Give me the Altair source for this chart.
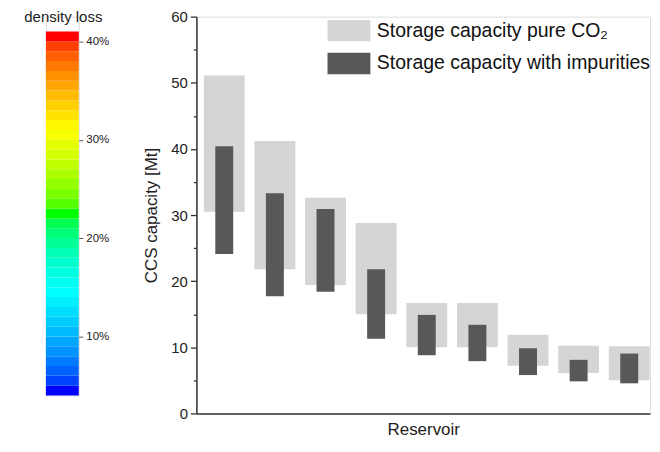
import altair as alt
import pandas as pd

# ---------------- data ----------------
reservoirs = ["1", "2", "3", "4", "5", "6", "7", "8", "9"]
reservoir_pos = [0, 1, 2, 3, 4, 5, 6, 7, 8]
pure_low = [30.5, 21.8, 19.4, 15.0, 10.0, 10.0, 7.2, 6.1, 5.0]
pure_high = [51.1, 41.2, 32.6, 28.8, 16.7, 16.7, 11.9, 10.25, 10.15]
imp_low = [24.1, 17.7, 18.4, 11.3, 8.8, 7.9, 5.8, 4.85, 4.55]
imp_high = [40.4, 33.3, 30.9, 21.8, 14.9, 13.4, 9.85, 8.1, 9.05]
series_names = ["Storage capacity pure CO\u2082", "Storage capacity with impurities"]

density_levels = [4, 5, 6, 7, 8, 9, 10, 11, 12, 13, 14, 15, 16, 17, 18, 19, 20,
                  21, 22, 23, 24, 25, 26, 27, 28, 29, 30, 31, 32, 33, 34, 35, 36,
                  37, 38, 39, 40]
density_ticks = [10, 20, 30, 40]
jet_stops = [4, 14, 22, 30.5, 40]
jet_colors = ["#0000ff", "#00ffff", "#00ff00", "#ffff00", "#ff0000"]

y_ticks = [0, 5, 10, 15, 20, 25, 30, 35, 40, 45, 50, 55, 60]

FONT = "Liberation Sans"
H = 398
W = 455
CB_H = 380

# ---------------- tables ----------------
pure_df = pd.DataFrame({"reservoir": reservoirs, "pos": reservoir_pos,
                        "low": pure_low, "high": pure_high, "series": series_names[0]})
imp_df = pd.DataFrame({"reservoir": reservoirs, "pos": reservoir_pos,
                       "low": imp_low, "high": imp_high, "series": series_names[1]})
cb_df = pd.DataFrame({"lo": density_levels, "hi": [v + 1 for v in density_levels]})

# ---------------- colorbar ----------------
px_per = 365 / 37.0
cb_top = 41 + 15 / px_per

colorbar = alt.Chart(cb_df).mark_rect(strokeWidth=0).encode(
    y=alt.Y("lo:Q", scale=alt.Scale(domain=[4, cb_top], nice=False, zero=False),
            axis=alt.Axis(orient="right", values=density_ticks,
                          labelExpr="datum.value + '%'", domain=False, grid=False,
                          tickSize=4, tickColor="#555", labelColor="#222",
                          labelFontSize=11.5, labelPadding=3, labelFont=FONT,
                          title="density loss", titleAngle=0, titleX=-16, titleY=0,
                          titleAlign="center", titleBaseline="middle",
                          titleFontSize=15, titleFontWeight="normal",
                          titleFont=FONT, titleColor="#222")),
    y2="hi:Q",
    color=alt.Color("lo:Q", scale=alt.Scale(domain=jet_stops, range=jet_colors),
                    legend=None),
).properties(width=33, height=CB_H)

# ---------------- main chart ----------------
color_scale = alt.Scale(domain=series_names, range=["#d5d5d5", "#585858"])
x_enc = alt.X("pos:Q",
              scale=alt.Scale(domain=[-0.55, 8.41], nice=False, zero=False, padding=0),
              axis=alt.Axis(labels=False, ticks=False, grid=False, title="Reservoir",
                            titleFontSize=17, titleFontWeight="normal", titleFont=FONT,
                            titleColor="#222", titlePadding=8,
                            domainColor="#333", domainWidth=1.5))
y_axis = alt.Axis(values=y_ticks, grid=False,
                  labelExpr="datum.value % 10 == 0 ? datum.label : ''",
                  tickSize={"condition": {"test": "datum.value % 10 != 0", "value": 3},
                            "value": 6},
                  tickColor="#333", tickWidth=1.3, domainColor="#333", domainWidth=1.5,
                  labelFontSize=15, labelFont=FONT, labelColor="#222", labelPadding=3,
                  title="CCS capacity [Mt]", titleFontSize=17, titleFontWeight="normal",
                  titleFont=FONT, titleColor="#222", titlePadding=10)
y_enc = alt.Y("low:Q", scale=alt.Scale(domain=[0, 60], nice=False), axis=y_axis)

legend = alt.Legend(title=None, orient="none", legendX=142, legendY=3,
                    symbolType="M-2,-1L2,-1L2,1L-2,1Z", symbolSize=462,
                    symbolStrokeWidth=0, labelFontSize=19.5, labelFont=FONT,
                    labelColor="#111", rowPadding=11, labelOffset=17, padding=0,
                    labelLimit=400)

pure_bars = alt.Chart(pure_df).mark_bar(size=41).encode(
    x=x_enc, y=y_enc, y2="high:Q",
    color=alt.Color("series:N", scale=color_scale, legend=legend),
)
imp_bars = alt.Chart(imp_df).mark_bar(size=18).encode(
    x=x_enc, y=y_enc, y2="high:Q",
    color=alt.Color("series:N", scale=color_scale, legend=legend),
)
main = alt.layer(pure_bars, imp_bars).properties(width=W, height=H)

chart = alt.hconcat(colorbar, main, spacing=32).properties(
    padding={"left": 15, "top": 0, "right": 0, "bottom": 0}
).configure_view(stroke="transparent", strokeWidth=0).configure(font=FONT)

chart.save("out.html", embed_options={"renderer": "svg", "actions": False})
